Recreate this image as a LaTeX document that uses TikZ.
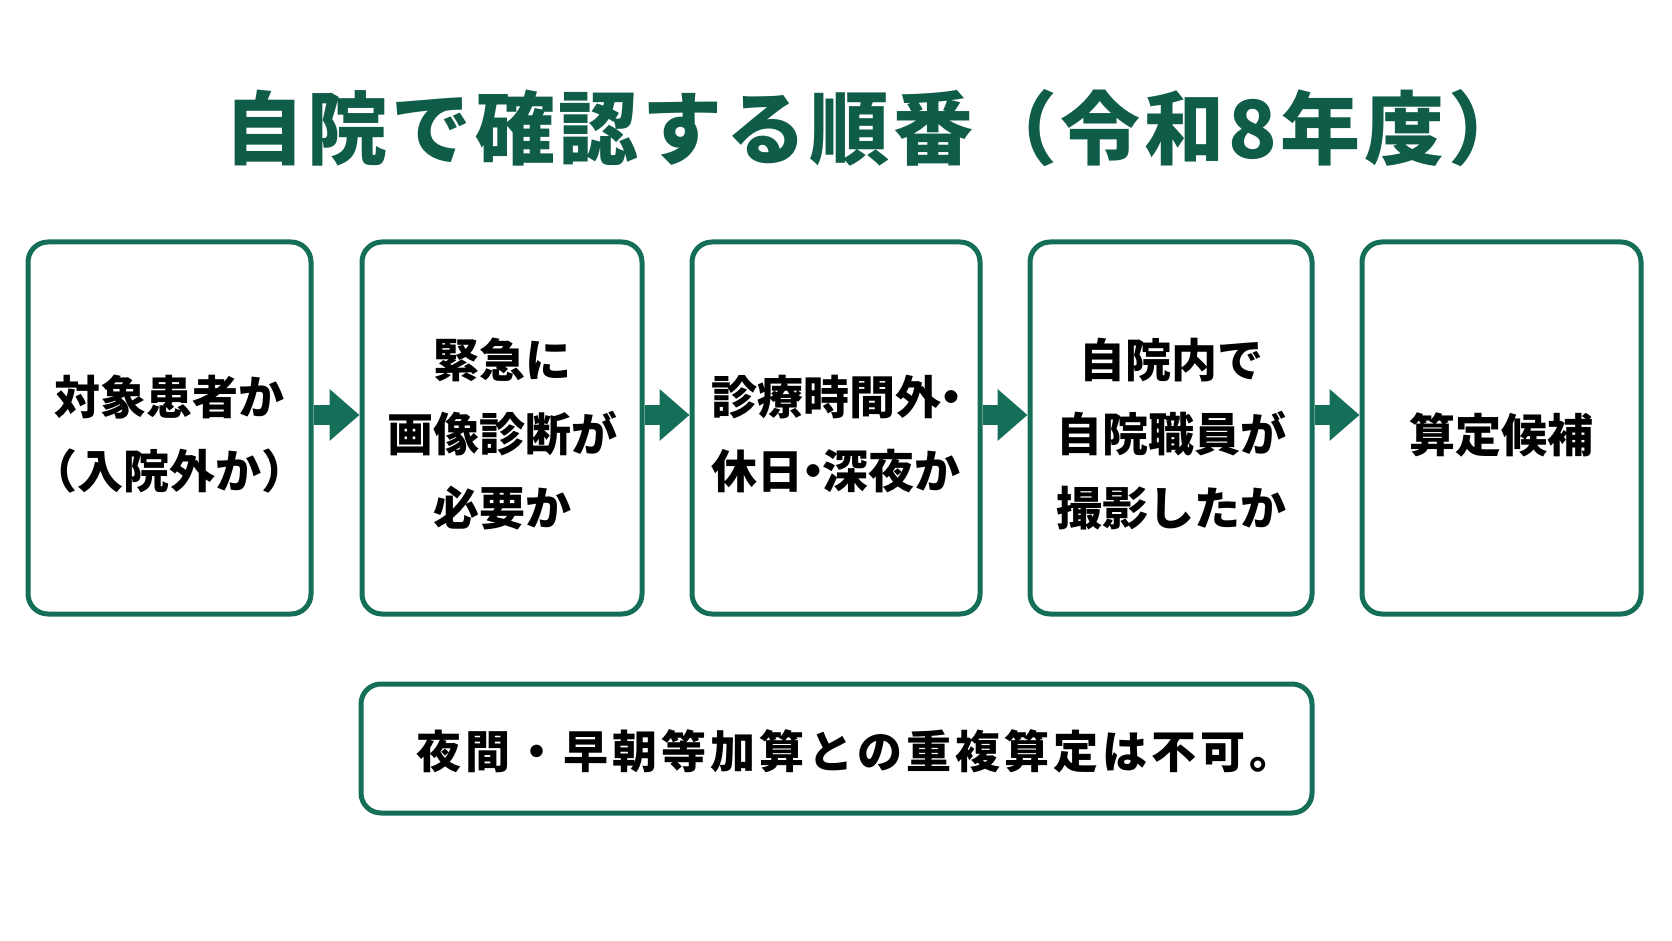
\documentclass[tikz,border=0pt]{standalone}
\usepackage{fontspec}
\newfontfamily\jp{Noto Sans CJK JP}
\newfontfamily\jpls{Noto Sans CJK JP}[LetterSpace=9]
\newfontfamily\jpt{Noto Sans CJK JP}[LetterSpace=4.6]
\newcommand\nakaguro{\makebox[0.42em]{・}}
\usetikzlibrary{arrows.meta}
\definecolor{brd}{RGB}{20,110,88}
\definecolor{ttl}{RGB}{15,92,72}
\begin{document}
\begin{tikzpicture}[x=1pt,y=-1pt,
  stepbox/.style={draw=brd, line width=5pt, rounded corners=20pt, fill=white,
    minimum height=372pt, inner sep=0pt},
  boxtext/.style={align=center, inner sep=0pt,
    font=\jp\bfseries\fontsize{46}{74}\selectfont},
  notebox/.style={draw=brd, line width=5pt, rounded corners=20pt, fill=white,
    minimum width=951pt, minimum height=129pt, inner sep=0pt},
  flow/.style={brd, line width=20pt, -{Triangle[width=50pt,length=30pt]}}]
\fill[white] (0,0) rectangle (1672,941);
\useasboundingbox (0,0) rectangle (1672,941);
\node[anchor=west, inner sep=0pt, text=ttl, font=\jpt\bfseries\fontsize{80}{90}\selectfont] (title) at (224,128) {自院で確認する順番（令和8年度）};
\node[stepbox, minimum width=283pt] (s1) at (169.5,428) {};
\node[stepbox, minimum width=280pt] (s2) at (502,428) {};
\node[stepbox, minimum width=288pt] (s3) at (836,428) {};
\node[stepbox, minimum width=282pt] (s4) at (1171,428) {};
\node[stepbox, minimum width=279pt] (s5) at (1501.5,428) {};
\node[boxtext] (t1) at ([yshift=-6pt]s1.center) {対象患者か\\（入院外か）};
\node[boxtext] (t2) at ([yshift=-6pt]s2.center) {緊急に\\画像診断が\\必要か};
\node[boxtext] (t3) at ([yshift=-6pt]s3.center) {診療時間外\nakaguro\\休日\nakaguro 深夜か};
\node[boxtext] (t4) at ([yshift=-6pt]s4.center) {自院内で\\自院職員が\\撮影したか};
\node[boxtext] (t5) at ([yshift=-7pt]s5.center) {算定候補};
\draw[flow] ([yshift=13pt]s1.east) -- ([yshift=13pt]s2.west);
\draw[flow] ([yshift=13pt]s2.east) -- ([yshift=13pt]s3.west);
\draw[flow] ([yshift=13pt]s3.east) -- ([yshift=13pt]s4.west);
\draw[flow] ([yshift=13pt]s4.east) -- ([yshift=13pt]s5.west);
\node[notebox] (note) at (836.5,748.5) {};
\node[anchor=west, inner sep=0pt, font=\jpls\bfseries\fontsize{45}{50}\selectfont] (notetext) at (416,751) {夜間・早朝等加算との重複算定は不可。};
\end{tikzpicture}
\end{document}
